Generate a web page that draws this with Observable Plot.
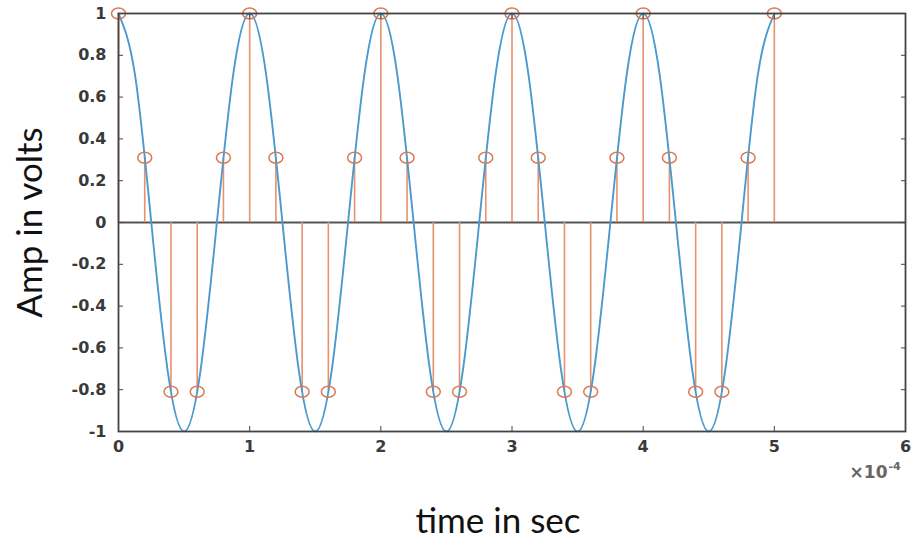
<!DOCTYPE html>
<html>
<head>
<meta charset="utf-8">
<script src="https://cdn.jsdelivr.net/npm/d3@7"></script>
<script src="https://cdn.jsdelivr.net/npm/@observablehq/plot@0.6"></script>
<style>
  body { margin: 0; background: #fff; }
  #chart svg { display: block; }
</style>
</head>
<body>
<div id="chart"></div>
<script>
// Time values are in units of 1e-4 s (axis shows "×10^-4")
// Continuous analog signal (read at 1/8-period steps)
const analogTime = [0,0.125,0.25,0.375,0.5,0.625,0.75,0.875,
  1,1.125,1.25,1.375,1.5,1.625,1.75,1.875,
  2,2.125,2.25,2.375,2.5,2.625,2.75,2.875,
  3,3.125,3.25,3.375,3.5,3.625,3.75,3.875,
  4,4.125,4.25,4.375,4.5,4.625,4.75,4.875,5];
const analogAmp = [1,0.71,0,-0.71,-1,-0.71,0,0.71,
  1,0.71,0,-0.71,-1,-0.71,0,0.71,
  1,0.71,0,-0.71,-1,-0.71,0,0.71,
  1,0.71,0,-0.71,-1,-0.71,0,0.71,
  1,0.71,0,-0.71,-1,-0.71,0,0.71,1];
// Sampled signal (stems)
const sampleTime = [0,0.2,0.4,0.6,0.8,1,1.2,1.4,1.6,1.8,2,2.2,2.4,2.6,2.8,3,3.2,3.4,3.6,3.8,4,4.2,4.4,4.6,4.8,5];
const sampleAmp = [1,0.31,-0.81,-0.81,0.31,1,0.31,-0.81,-0.81,0.31,1,0.31,-0.81,-0.81,0.31,1,0.31,-0.81,-0.81,0.31,1,0.31,-0.81,-0.81,0.31,1];
const xTicks = [0,1,2,3,4,5,6];
const yTicks = [-1,-0.8,-0.6,-0.4,-0.2,0,0.2,0.4,0.6,0.8,1];

const analog = analogTime.map((t, i) => ({t, v: analogAmp[i]}));
const samples = sampleTime.map((t, i) => ({t, v: sampleAmp[i]}));

const ellipse = {
  draw(context) {
    const rx = 7, ry = 5.5, k = 0.5523;
    context.moveTo(rx, 0);
    context.bezierCurveTo(rx, ry * k, rx * k, ry, 0, ry);
    context.bezierCurveTo(-rx * k, ry, -rx, ry * k, -rx, 0);
    context.bezierCurveTo(-rx, -ry * k, -rx * k, -ry, 0, -ry);
    context.bezierCurveTo(rx * k, -ry, rx, -ry * k, rx, 0);
    context.closePath();
  }
};

const axisColor = "#444";
const tickFont = {fontSize: 16, fontWeight: "bold", fill: "#3a3a3a", fontFamily: "'DejaVu Sans', sans-serif"};
const titleFont = {fontSize: 35, fill: "#111", fontFamily: "Lato, 'Open Sans', sans-serif"};

const chart = Plot.plot({
  width: 916,
  height: 540,
  marginLeft: 118,
  marginRight: 11,
  marginTop: 13,
  marginBottom: 109,
  style: {fontFamily: "'DejaVu Sans', sans-serif", background: "#fff"},
  x: {domain: [0, 6]},
  y: {domain: [-1, 1]},
  marks: [
    Plot.ruleY([0], {stroke: "#555", strokeWidth: 2}),
    Plot.ruleX(samples, {x: "t", y1: 0, y2: "v", stroke: "#e8916c", strokeWidth: 1.6}),
    Plot.line(analog, {x: "t", y: "v", curve: "natural", stroke: "#4a9ad0", strokeWidth: 1.9}),
    Plot.dot(samples, {x: "t", y: "v", symbol: ellipse, stroke: "#d77a52", strokeWidth: 1.5, fill: "none"}),
    Plot.frame({stroke: axisColor, strokeWidth: 1.8}),
    Plot.axisX({anchor: "bottom", ticks: xTicks, tickSize: -5, tickPadding: 14, tickFormat: d => String(d), label: null, stroke: axisColor, ...tickFont}),
    Plot.axisX({anchor: "top", ticks: xTicks, tickSize: -5, tickFormat: () => "", label: null, stroke: axisColor}),
    Plot.axisY({anchor: "left", ticks: yTicks, tickSize: -5, tickPadding: 17, tickFormat: d => String(d), label: null, stroke: axisColor, ...tickFont}),
    Plot.axisY({anchor: "right", ticks: yTicks, tickSize: -5, tickFormat: () => "", label: null, stroke: axisColor}),
    Plot.text(["×10"], {frameAnchor: "bottom-right", textAnchor: "end", dx: -18, dy: 46, fontSize: 17, fill: "#666", fontFamily: "'DejaVu Sans', sans-serif", fontWeight: "bold"}),
    Plot.text(["-4"], {frameAnchor: "bottom-right", textAnchor: "start", dx: -17, dy: 38, fontSize: 11, fill: "#666", fontFamily: "'DejaVu Sans', sans-serif", fontWeight: "bold"}),
    Plot.text(["time in sec"], {frameAnchor: "bottom", textAnchor: "middle", dx: -14, dy: 101, ...titleFont}),
    Plot.text(["Amp in volts"], {frameAnchor: "left", textAnchor: "middle", dx: -88, rotate: -90, ...titleFont})
  ]
});
document.getElementById("chart").append(chart);
</script>
</body>
</html>
